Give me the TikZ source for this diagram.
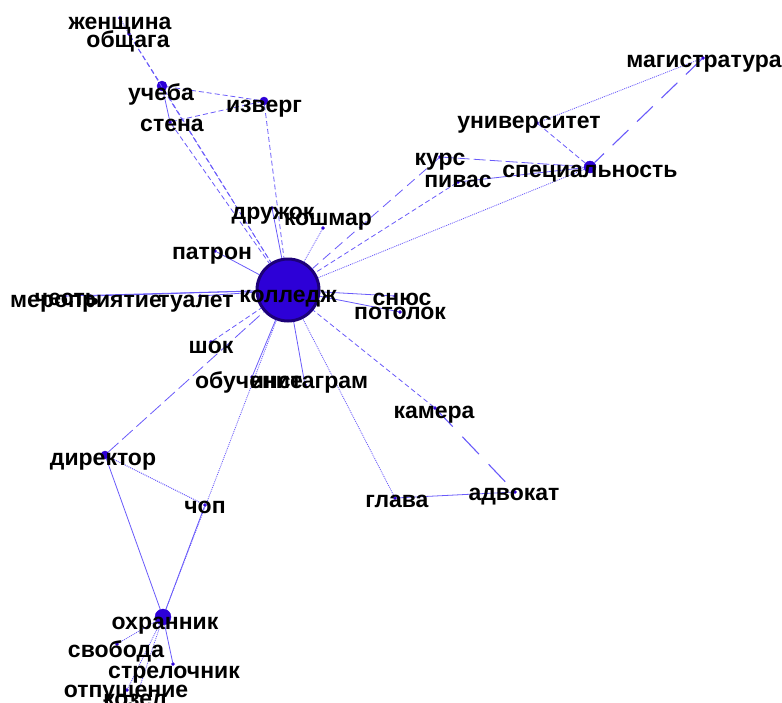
\documentclass[tikz,border=0pt]{standalone}
\usepackage{fontspec}
\setmainfont{Liberation Sans}
\usepackage{tikz}
\usetikzlibrary{calc}

\definecolor{edgeblue}{RGB}{105,90,250}
\definecolor{dotblue}{RGB}{45,0,215}
\definecolor{rimblue}{RGB}{28,0,120}

\begin{document}
\begin{tikzpicture}[x=1pt,y=-1pt,
        vtx/.style={circle,fill=dotblue,draw=dotblue,inner sep=0pt,minimum size=#1},
        vtx/.default=3pt,
        word/.style={anchor=base,inner sep=0pt,font=\fontsize{23}{23}\selectfont\bfseries},
        ln/.style={edgeblue,line width=0.8pt},
        dsh/.style={ln,dash pattern=on 5pt off 3pt},
        dtt/.style={ln,dash pattern=on 1pt off 1pt},
        lng/.style={ln,line width=1.1pt,dash pattern=on 22pt off 12pt}]
    \useasboundingbox (0,0) rectangle (782,702);

    % vertices
    \node[circle,fill=dotblue,draw=rimblue,line width=3pt,minimum size=62pt,inner sep=0pt] (kolledzh) at (288,290) {};
    \node[vtx] (zhenshchina) at (120,18) {};
    \node[vtx] (obshchaga) at (129,34) {};
    \node[vtx=10pt] (ucheba) at (162,86) {};
    \node[vtx] (stena) at (170,122) {};
    \node[vtx=8pt] (izverg) at (264,101) {};
    \node[vtx] (druzhok) at (272,208) {};
    \node[vtx] (koshmar) at (323,228) {};
    \node[vtx] (patron) at (215,251) {};
    \node[vtx] (kurs) at (440,157) {};
    \node[vtx] (pivas) at (458,182) {};
    \node[vtx] (universitet) at (537,123) {};
    \node[vtx=12pt] (specialnost) at (590,167) {};
    \node[vtx] (magistratura) at (703,58) {};
    \node[vtx] (snyus) at (395,296) {};
    \node[vtx] (potolok) at (400,312) {};
    \node[vtx] (tualet) at (200,296) {};
    \node[vtx] (meropriyatie) at (90,296) {};
    \node[vtx] (chest) at (65,296) {};
    \node[vtx] (shok) at (211,342) {};
    \node[vtx] (obuchenie) at (252,377) {};
    \node[vtx] (instagram) at (305,385) {};
    \node[vtx] (kamera) at (435,408) {};
    \node[vtx=8pt] (direktor) at (105,455) {};
    \node[vtx] (chop) at (205,505) {};
    \node[vtx] (glava) at (395,498) {};
    \node[vtx] (advokat) at (515,492) {};
    \node[vtx=16pt] (okhrannik) at (163,617) {};
    \node[vtx] (svoboda) at (117,644) {};
    \node[vtx] (strelochnik) at (173,664) {};
    \node[vtx] (otpushchenie) at (127,690) {};
    \node[vtx] (kozel) at (137,695) {};

    % edges
    \draw[dtt] (zhenshchina) -- (obshchaga);
    \draw[dsh] (obshchaga) -- (ucheba);
    \draw[dsh] (obshchaga) -- (kolledzh);
    \draw[dsh] (ucheba) -- (izverg);
    \draw[dsh] (stena) -- (izverg);
    \draw[ln] (ucheba) -- (stena);
    \draw[dsh] (ucheba) -- (kolledzh);
    \draw[dsh] (stena) -- (kolledzh);
    \draw[dsh] (izverg) -- (kolledzh);
    \draw[ln] (druzhok) -- (kolledzh);
    \draw[dtt] (koshmar) -- (kolledzh);
    \draw[ln] (patron) -- (kolledzh);
    \draw[dsh,dash pattern=on 10pt off 6pt] (kurs) -- (kolledzh);
    \draw[dsh] (pivas) -- (kolledzh);
    \draw[dtt] (specialnost) -- (kolledzh);
    \draw[dsh,dash pattern=on 12pt off 4pt] (kurs) -- (specialnost);
    \draw[ln] (pivas) -- (specialnost);
    \draw[dsh] (universitet) -- (specialnost);
    \draw[dtt] (universitet) -- (magistratura);
    \draw[lng] (magistratura) -- (specialnost);
    \draw[ln] (snyus) -- (kolledzh);
    \draw[ln] (potolok) -- (kolledzh);
    \draw[ln] (tualet) -- (kolledzh);
    \draw[ln] (meropriyatie) -- (kolledzh);
    \draw[ln] (chest) -- (kolledzh);
    \draw[dsh] (shok) -- (kolledzh);
    \draw[dsh,dash pattern=on 14pt off 5pt] (direktor) -- (kolledzh);
    \draw[ln] (obuchenie) -- (kolledzh);
    \draw[dtt] (okhrannik) -- (kolledzh);
    \draw[ln] (instagram) -- (kolledzh);
    \draw[dtt] (glava) -- (kolledzh);
    \draw[dsh] (kamera) -- (kolledzh);
    \draw[lng,dash pattern=on 24pt off 14pt] (kamera) -- (advokat);
    \draw[ln] (glava) -- (advokat);
    \draw[dtt,line width=1pt] (direktor) -- (chop);
    \draw[ln] (direktor) -- (okhrannik);
    \draw[ln] (chop) -- (okhrannik);
    \draw[dtt] (okhrannik) -- (svoboda);
    \draw[ln] (okhrannik) -- (strelochnik);
    \draw[dtt] (okhrannik) -- (otpushchenie);
    \draw[dtt] (okhrannik) -- (kozel);

    % labels
    \node[word] (zhenshchina-t) at (120,29) {женщина};
    \node[word] (obshchaga-t) at (128,47) {общага};
    \node[word] (ucheba-t) at (161,100) {учеба};
    \node[word] (stena-t) at (172,131) {стена};
    \node[word] (izverg-t) at (264,112) {изверг};
    \node[word] (druzhok-t) at (273,219) {дружок};
    \node[word] (koshmar-t) at (328,225) {кошмар};
    \node[word] (patron-t) at (212,259) {патрон};
    \node[word] (kolledzh-t) at (288,302) {колледж};
    \node[word] (meropriyatie-t) at (86,307) {мероприятие};
    \node[word] (chest-t) at (67,305) {честь};
    \node[word] (tualet-t) at (196,307) {туалет};
    \node[word] (snyus-t) at (402,305) {снюс};
    \node[word] (potolok-t) at (400,319) {потолок};
    \node[word] (shok-t) at (211,353) {шок};
    \node[word] (obuchenie-t) at (249,388) {обучение};
    \node[word] (instagram-t) at (309,388) {инстаграм};
    \node[word] (kamera-t) at (434,418) {камера};
    \node[word] (direktor-t) at (103,465) {директор};
    \node[word] (chop-t) at (205,513) {чоп};
    \node[word] (glava-t) at (397,507) {глава};
    \node[word] (advokat-t) at (514,500) {адвокат};
    \node[word] (okhrannik-t) at (165,629) {охранник};
    \node[word] (svoboda-t) at (116,657) {свобода};
    \node[word] (strelochnik-t) at (174,678) {стрелочник};
    \node[word] (otpushchenie-t) at (126,697) {отпущение};
    \node[word] (kozel-t) at (135,706) {козел};
    \node[word] (kurs-t) at (440,165) {курс};
    \node[word] (pivas-t) at (458,187) {пивас};
    \node[word] (universitet-t) at (529,128) {университет};
    \node[word] (specialnost-t) at (590,177) {специальность};
    \node[word] (magistratura-t) at (704,67) {магистратура};
\end{tikzpicture}
\end{document}
